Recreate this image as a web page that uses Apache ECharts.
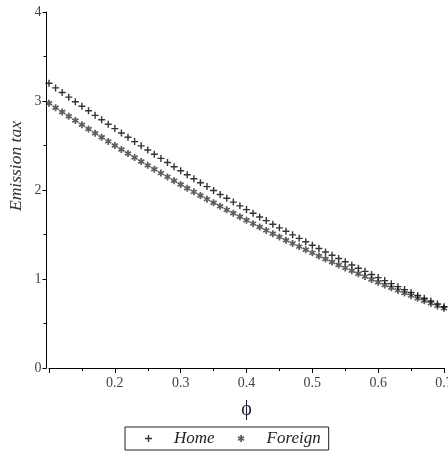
<!DOCTYPE html>
<html>
<head>
<meta charset="utf-8">
<script src="https://cdn.jsdelivr.net/npm/echarts@6/dist/echarts.min.js"></script>
<style>
  html, body { margin: 0; padding: 0; background: #fff; }
  #chart { width: 448px; height: 451px; }
</style>
</head>
<body>
<div id="chart"></div>
<script>
// Abatement share phi (x axis)
const phi = [
  0.10, 0.11, 0.12, 0.13, 0.14, 0.15, 0.16, 0.17, 0.18, 0.19,
  0.20, 0.21, 0.22, 0.23, 0.24, 0.25, 0.26, 0.27, 0.28, 0.29,
  0.30, 0.31, 0.32, 0.33, 0.34, 0.35, 0.36, 0.37, 0.38, 0.39,
  0.40, 0.41, 0.42, 0.43, 0.44, 0.45, 0.46, 0.47, 0.48, 0.49,
  0.50, 0.51, 0.52, 0.53, 0.54, 0.55, 0.56, 0.57, 0.58, 0.59,
  0.60, 0.61, 0.62, 0.63, 0.64, 0.65, 0.66, 0.67, 0.68, 0.69,
  0.70
];

// Emission tax, Home country
const homeTax = [
  3.200, 3.147, 3.095, 3.043, 2.992, 2.941, 2.890, 2.839, 2.789, 2.739,
  2.690, 2.641, 2.593, 2.544, 2.496, 2.449, 2.402, 2.355, 2.309, 2.262,
  2.217, 2.171, 2.126, 2.082, 2.038, 1.994, 1.950, 1.907, 1.864, 1.822,
  1.780, 1.738, 1.697, 1.656, 1.615, 1.575, 1.536, 1.496, 1.457, 1.418,
  1.380, 1.342, 1.304, 1.267, 1.230, 1.193, 1.157, 1.121, 1.086, 1.051,
  1.016, 0.982, 0.948, 0.914, 0.881, 0.848, 0.816, 0.783, 0.752, 0.720,
  0.689
];

// Emission tax, Foreign country
const foreignTax = [
  2.974, 2.925, 2.876, 2.828, 2.780, 2.733, 2.685, 2.638, 2.592, 2.546,
  2.500, 2.455, 2.410, 2.365, 2.321, 2.277, 2.233, 2.190, 2.147, 2.104,
  2.062, 2.020, 1.979, 1.938, 1.897, 1.857, 1.817, 1.777, 1.738, 1.699,
  1.660, 1.622, 1.584, 1.546, 1.509, 1.473, 1.436, 1.400, 1.364, 1.329,
  1.294, 1.259, 1.225, 1.191, 1.158, 1.125, 1.092, 1.059, 1.027, 0.995,
  0.964, 0.933, 0.902, 0.872, 0.842, 0.813, 0.783, 0.755, 0.726, 0.698,
  0.670
];

const seriesNames = ['Home', 'Foreign'];

// point symbols: thin plus and six-armed asterisk
const plusPath = 'path://M-3,-0.6H-0.6V-3H0.6V-0.6H3V0.6H0.6V3H-0.6V0.6H-3Z';
const starPath = 'path://M-0.75,-3L0.75,-3L0.75,3L-0.75,3Z' +
  'M-2.948,-0.894L-2.248,-2.106L2.948,0.894L2.248,2.106Z' +
  'M2.248,-2.106L2.948,-0.894L-2.248,2.106L-2.948,0.894Z';

const serif = '"Liberation Serif", "DejaVu Serif", serif';

function pairs(xs, ys) {
  return xs.map((x, i) => [x, ys[i]]);
}

const chart = echarts.init(document.getElementById('chart'), null, { renderer: 'canvas' });

chart.setOption({
  animation: false,
  backgroundColor: '#ffffff',
  grid: { left: 49, right: 4, top: 12, bottom: 83, containLabel: false, outerBoundsMode: 'none' },
  xAxis: {
    type: 'value',
    min: 0.1,
    max: 0.7,
    interval: 0.1,
    name: 'ϕ',
    nameLocation: 'middle',
    nameGap: 32,
    nameTextStyle: { fontFamily: serif, fontSize: 20, color: '#1a1d3a' },
    axisLine: { show: true, onZero: false, lineStyle: { color: '#000', width: 1 } },
    axisTick: { show: true, length: 5, lineStyle: { color: '#000' } },
    minorTick: { show: true, splitNumber: 2, length: 3, lineStyle: { color: '#000' } },
    splitLine: { show: false },
    axisLabel: {
      margin: 8,
      fontFamily: serif,
      fontSize: 14,
      color: '#444',
      hideOverlap: false,
      showMinLabel: true,
      showMaxLabel: true,
      formatter: v => (Math.abs(v - 0.1) < 1e-9 ? '' : v.toFixed(1))
    }
  },
  yAxis: {
    type: 'value',
    min: 0,
    max: 4,
    interval: 1,
    offset: 2.5,
    axisLine: { show: true, onZero: false, lineStyle: { color: '#000', width: 1 } },
    axisTick: { show: true, length: 4, lineStyle: { color: '#000' } },
    minorTick: { show: true, splitNumber: 2, length: 3, lineStyle: { color: '#000' } },
    splitLine: { show: false },
    axisLabel: { margin: 5, fontFamily: serif, fontSize: 14, color: '#444' }
  },
  legend: {
    data: seriesNames,
    left: 125,
    top: 427,
    orient: 'horizontal',
    itemWidth: 7,
    itemHeight: 7,
    itemGap: 23,
    padding: [3, 8, 3, 20],
    borderColor: '#222',
    borderWidth: 1,
    borderRadius: 0,
    textStyle: {
      fontFamily: serif,
      fontStyle: 'italic',
      fontSize: 17,
      color: '#222',
      padding: [0, 0, 0, 17]
    }
  },
  graphic: [
    {
      type: 'text',
      x: 16,
      y: 166,
      rotation: Math.PI / 2,
      style: {
        text: 'Emission tax',
        font: 'italic 17.5px ' + serif,
        fill: '#333',
        align: 'center',
        verticalAlign: 'middle'
      }
    }
  ],
  series: [
    {
      name: 'Foreign',
      type: 'scatter',
      symbol: starPath,
      symbolSize: 7,
      z: 2,
      itemStyle: { color: '#363636' },
      data: pairs(phi, foreignTax)
    },
    {
      name: 'Home',
      type: 'scatter',
      symbol: plusPath,
      symbolSize: 7,
      z: 3,
      itemStyle: { color: '#000' },
      data: pairs(phi, homeTax)
    }
  ]
});
</script>
</body>
</html>
